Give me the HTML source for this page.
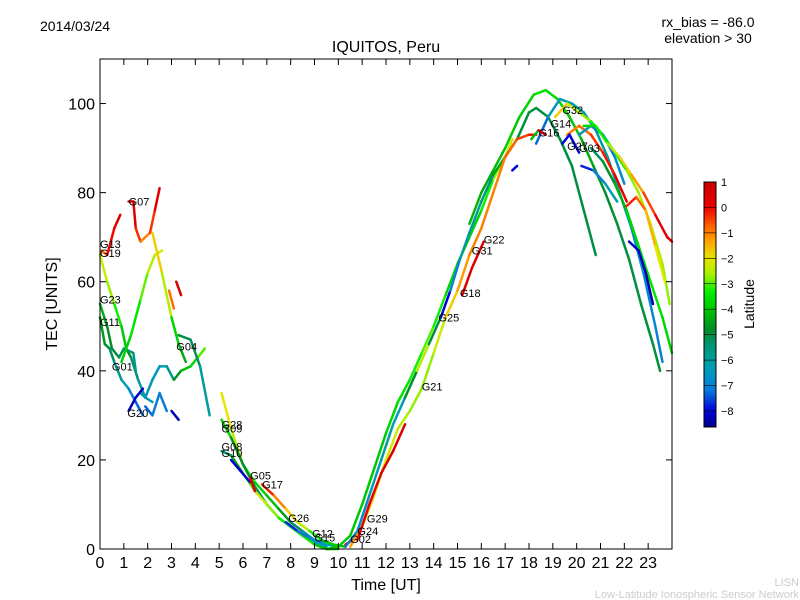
<!DOCTYPE html>
<html><head><meta charset="utf-8">
<style>
body{margin:0;background:#fff;}
svg{display:block;font-family:"Liberation Sans","DejaVu Sans",sans-serif;}
</style></head>
<body>
<svg id="chart" width="800" height="600" viewBox="0 0 800 600" xmlns="http://www.w3.org/2000/svg">
<rect width="800" height="600" fill="#fff"/>
<text x="40" y="31" font-size="14">2014/03/24</text>
<text x="708" y="27" font-size="14" text-anchor="middle">rx_bias = -86.0</text>
<text x="708" y="43" font-size="14" text-anchor="middle">elevation &gt; 30</text>
<text x="386" y="52" font-size="16" text-anchor="middle">IQUITOS, Peru</text>
<g id="plot"></g>
<rect x="100" y="59" width="572" height="490" fill="none" stroke="#000" stroke-width="1"/>
<g id="xticks"></g>
<g id="yticks"></g>
<text x="386" y="590" font-size="16" text-anchor="middle">Time [UT]</text>
<text x="57" y="304" font-size="16" text-anchor="middle" transform="rotate(-90 57 304)">TEC [UNITS]</text>
<defs><linearGradient id="jet" x1="0" y1="1" x2="0" y2="0"></linearGradient></defs>
<rect x="704" y="182" width="12" height="245" fill="url(#jet)" stroke="#000" stroke-width="1"/>
<g id="cticks"></g>
<text x="754" y="304" font-size="14" text-anchor="middle" transform="rotate(-90 754 304)">Latitude</text>
<text x="799" y="586" font-size="11" fill="#ccc" text-anchor="end">LISN</text>
<text x="799" y="598" font-size="11" fill="#ccc" text-anchor="end">Low-Latitude Ionospheric Sensor Network</text>
</svg>
<script>
const xTicks=[0,1,2,3,4,5,6,7,8,9,10,11,12,13,14,15,16,17,18,19,20,21,22,23];
const yTicks=[0,20,40,60,80,100];
const cTicks=[1,0,-1,-2,-3,-4,-5,-6,-7,-8];
const latMin=-8.63, latMax=1.0;
// tracks: [time UT, TEC, latitude]
const trkG07=[[1.2,78,0.6],[1.4,78,0.6],[1.5,72,0.3],[1.7,69,-1],[2.1,71,-1],[2.3,76,0.2],[2.5,81,0.6]];
const trkG13=[[0.05,67,-1],[0.3,66,-0.6],[0.6,72,0.5],[0.85,75,0.6]];
const trkG19=[[0.0,66,-2],[0.3,60,-2.5],[0.6,55,-3],[0.9,50,-3.5],[1.1,45,-4.5],[1.3,43,-5],[1.6,38,-5.7],[1.9,34,-6.3],[2.2,33,-6.6]];
const trkG23=[[0.0,55,-4.2],[0.3,50,-4.5],[0.5,45,-5],[0.8,43,-5],[1.0,45,-5.2],[1.4,44,-5.6],[1.5,40,-5.8]];
const trkG11=[[0.0,52,-4.5],[0.2,46,-4.7],[0.4,45,-5],[0.6,42,-5.5],[0.9,38,-6],[1.2,36,-6.6],[1.5,33,-7.2],[1.8,30,-7.5]];
const trkG01=[[0.9,42,-4],[1.3,48,-3.7],[1.7,56,-3.2],[2.0,62,-2.7],[2.3,66,-2.3],[2.6,67,-2.2]];
const trkRise=[[1.7,35,-5.8],[1.9,34,-6.5],[2.2,38,-6.6],[2.5,41,-6.4],[2.8,41,-6.2],[3.1,38,-5.2],[3.4,40,-4.2],[3.8,41,-4],[4.1,43,-3.5],[4.4,45,-2.5]];
const trkG20=[[1.2,31,-8.3],[1.5,34,-8.2],[1.8,36,-8.1]];
const trkG20b=[[1.9,32,-7.5],[2.2,30,-7.2],[2.5,35,-7],[2.8,31,-7.2]];
const trkG20c=[[3.0,31,-8.2],[3.3,29,-8.3]];
const trkDot=[[2.2,71,-1.5],[2.6,62,-2],[3.0,52,-3],[3.3,46,-4.5],[3.6,42,-4.3]];
const trkG04=[[3.3,48,-5],[3.8,47,-5],[4.2,41,-5.5],[4.6,30,-6.5]];
const trkOr=[[2.9,58,-0.7],[3.1,54,-1]];
const trkRd=[[3.2,60,0.5],[3.4,57,0.5]];
const trkG28=[[5.1,35,-2],[5.5,27,-2],[6,19,-2.8],[6.5,15,-3.5],[7,12,-4],[7.5,9,-4.2],[8,6,-5],[8.5,4,-5.5],[9,2,-6],[9.5,1,-6],[10,0.5,-6.5]];
const trkG09=[[5.1,29,-2.5],[5.5,25,-5],[6,19,-4.5],[6.5,14,-5],[7,10,-5.5],[7.5,7,-6],[8,5,-6.5],[8.5,3,-6.5],[9,1.5,-6.5],[9.5,0.5,-6.5]];
const trkG10=[[5.1,22,-6],[5.5,21,-5],[6,17,-4],[6.5,13,-2],[7,10,-2.5],[7.5,7,-3],[8,5,-3.5],[8.5,3,-3],[9,1,-4],[9.5,0,-4],[10,0,-4]];
const trkG05=[[5.5,20,-8],[6.3,15,-8.3]];
const trkG05b=[[6.3,16,0.3],[6.5,13,0.5]];
const trkG17=[[6.8,14.5,0],[7.3,12,-0.5],[7.8,9,-1.5],[8.3,6,-2],[8.8,4,-3],[9.3,2,-3.5],[9.8,1,-4],[10.3,0.5,-4]];
const trkG26=[[7.8,6,-8],[8.3,4,-7.5],[8.8,2.5,-7],[9.3,1.5,-6.5]];
const trkG02=[[10.3,1,0.5],[10.6,2,0.5]];
const trkA=[[9.5,0,-4],[10,0.5,-4],[10.5,3,-4],[11,10,-4],[11.5,18,-4],[12,26,-4],[12.5,33,-3.5],[13,38,-3.5],[13.5,44,-3],[14,50,-3],[14.5,57,-3.5],[15,64,-4],[15.5,70,-4],[16,76,-3.5],[16.5,83,-3],[17,88,-2.5],[17.3,92,-2]];
const trkB=[[10.3,0.5,-7],[10.8,4,-7],[11.3,12,-6.5],[11.8,20,-6],[12.3,28,-6],[12.8,34,-6.5],[13.3,40,-3],[13.8,46,-2],[14.3,52,-8],[14.7,58,-8],[15.1,65,-6],[15.5,71,-6],[16,78,-6],[16.5,84,-5],[17,88,-4],[17.5,92,-5],[18,98,-5],[18.3,99,-5],[18.8,97,-5],[19.3,92,-5],[19.8,86,-5],[20.3,76,-5],[20.8,66,-5]];
const trkC=[[10.5,0.5,-1],[11,5,-1.5],[11.5,12,-2],[12,20,-2],[12.5,27,-2.5],[13,31,-2.5],[13.5,36,-3],[14,44,-2.5],[14.5,52,-2],[15,58,-1.5],[15.5,66,-1],[16,72,-1],[16.5,80,-1],[17,88,-1],[17.5,92,-0.5],[18,93,-0.5],[18.3,93,0.2]];
const trkD=[[10.8,2,0.5],[11.3,10,0],[11.8,17,0.5],[12.3,22,0.5],[12.8,28,0.5]];
const trkE=[[15.2,57,0.5],[15.6,63,0.5],[16.1,69,0.5]];
const trkF=[[15.5,73,-4],[16,80,-4.5],[16.5,85,-4.3],[17,90,-4],[17.6,97,-4],[18.2,102,-3.7],[18.7,103,-3.6],[19.2,101,-3.7],[19.7,97,-4],[20.2,92,-4.2],[20.7,86,-4.5],[21.2,80,-4.8],[21.7,73,-5],[22.2,65,-5],[22.7,55,-5],[23.2,46,-5],[23.5,40,-5]];
const trkG=[[18.3,91,-7.8],[18.8,97,-6.8],[19.3,101,-6.3],[19.8,100,-6],[20.3,98,-6],[20.8,94,-6],[21.3,88,-6],[21.8,80,-6.3],[22.3,72,-6.5],[22.8,62,-6.8],[23.3,50,-7],[23.6,42,-7]];
const trkH=[[19.1,97,-1.5],[19.6,100,-2],[20.1,98,-2.5],[20.6,96,-3],[21.1,93,-3.5],[21.6,89,-3.5],[22.1,85,-3],[22.6,80,-2.5],[23.1,73,-2.5],[23.6,64,-2.5],[23.9,55,-3]];
const trkI=[[19.6,93,-1],[20.1,95,-1],[20.6,93,-0.5],[21.1,89,-0.3],[21.6,84,0],[22.1,78,0.3]];
const trkJ=[[20.1,93,-6.5],[20.6,95,-6.5],[21.1,93,-7],[21.6,88,-7],[22,82,-6.5]];
const trkK=[[20.3,95,-4],[20.8,95,-3.5],[21.3,91,-3],[21.8,88,-2],[22.3,84,-1.5],[22.8,80,-1],[23.3,75,0],[23.8,70,0.5],[24,69,0.5]];
const trkL=[[20.6,90,-5.5],[21.1,87,-5],[21.6,82,-4.5],[22.1,76,-4],[22.6,68,-3.5],[23.1,60,-3.5],[23.6,52,-3.5],[24,44,-4]];
const trkM=[[22.1,77,0],[22.5,79,-0.5],[22.9,76,-1],[23.3,68,-2],[23.7,60,-2]];
const trkN=[[20.2,86,-8],[20.7,85,-7.5],[21.2,82,-6.5],[21.7,78,-6]];
const trkO=[[22.2,69,-8.3],[22.6,67,-8],[22.9,62,-8.3],[23.2,55,-8.4]];
const trkP=[[17.3,85,-8.2],[17.5,86,-8]];
const trkQ=[[19.4,91,-8.2],[19.7,93,-7.8],[20.1,89,-8.3]];
const trkR=[[18.1,92,-8.3],[18.4,94,0],[18.7,93,0.3]];
const tracks=[trkG07,trkG13,trkG19,trkG23,trkG11,trkG01,trkRise,trkG20,trkG20b,trkG20c,trkDot,trkG04,trkOr,trkRd,trkG28,trkG09,trkG10,trkG05,trkG05b,trkG17,trkG26,trkG02,trkA,trkB,trkC,trkD,trkE,trkF,trkG,trkH,trkI,trkJ,trkK,trkL,trkM,trkN,trkO,trkP,trkQ,trkR];
const labelNames=["G07","G13","G19","G23","G11","G01","G20","G04","G28","G09","G08","G10","G05","G17","G26","G12","G15","G02","G24","G29","G21","G25","G18","G31","G22","G16","G14","G32","G27","G03"];
const labelT=[1.2,0,0,0,0,0.5,1.15,3.2,5.1,5.1,5.1,5.1,6.3,6.8,7.9,8.9,9.0,10.5,10.8,11.2,13.5,14.2,15.1,15.6,16.1,18.4,18.9,19.4,19.6,20.1];
const labelV=[78,68.5,66.5,56,51,41,30.5,45.5,28,27,23,21.5,16.5,14.5,7,3.5,2.6,2.2,4,6.8,36.5,52,57.5,67,69.5,93.5,95.5,98.5,90.5,90];
const NS="http://www.w3.org/2000/svg";
const X=t=>100+t*572/24, Y=v=>549-v*490/110;
const cmapStops=[[-8.63,[0,0,140]],[-8.0,[0,0,220]],[-7.2,[10,120,220]],[-6.3,[0,160,180]],[-5.5,[0,150,122]],[-4.8,[0,140,40]],[-4.0,[0,200,0]],[-3.3,[0,240,0]],[-2.7,[160,240,0]],[-2.0,[230,230,0]],[-1.3,[255,160,0]],[-0.8,[255,106,0]],[0.0,[240,0,0]],[1.0,[200,0,0]]];
function jet(l){l=Math.max(latMin,Math.min(latMax,l));
for(let i=0;i<cmapStops.length-1;i++){const a=cmapStops[i],b=cmapStops[i+1];if(l<=b[0]){const f=(l-a[0])/(b[0]-a[0]);
const c=a[1].map((v,k)=>Math.round(v+(b[1][k]-v)*f));return `rgb(${c[0]},${c[1]},${c[2]})`;}}
return 'rgb(200,0,0)';}
const plot=document.getElementById('plot');
tracks.forEach(tr=>{for(let i=0;i<tr.length-1;i++){const a=tr[i],b=tr[i+1];const ln=document.createElementNS(NS,'line');


ln.setAttribute('x1',X(a[0]));ln.setAttribute('y1',Y(a[1]));ln.setAttribute('x2',X(b[0]));ln.setAttribute('y2',Y(b[1]));
ln.setAttribute('stroke',jet((a[2]+b[2])/2));ln.setAttribute('stroke-width','2.5');ln.setAttribute('stroke-linecap','round');plot.appendChild(ln);}});
labelNames.forEach((n,i)=>{const tx=document.createElementNS(NS,'text');


tx.setAttribute('x',X(labelT[i]));tx.setAttribute('y',Y(labelV[i])+4);tx.setAttribute('font-size','11');tx.textContent=n;plot.appendChild(tx);});
const xg=document.getElementById('xticks');
xTicks.forEach(t=>{const x=X(t);[[549,543],[59,65]].forEach(p=>{const l=document.createElementNS(NS,'line');


l.setAttribute('x1',x);l.setAttribute('x2',x);l.setAttribute('y1',p[0]);l.setAttribute('y2',p[1]);l.setAttribute('stroke','#000');xg.appendChild(l);});
const tx=document.createElementNS(NS,'text');


tx.setAttribute('x',x);tx.setAttribute('y',568);tx.setAttribute('font-size','16');tx.setAttribute('text-anchor','middle');tx.textContent=t;xg.appendChild(tx);});
const yg=document.getElementById('yticks');
yTicks.forEach(v=>{const y=Y(v);[[100,106],[672,666]].forEach(p=>{const l=document.createElementNS(NS,'line');


l.setAttribute('y1',y);l.setAttribute('y2',y);l.setAttribute('x1',p[0]);l.setAttribute('x2',p[1]);l.setAttribute('stroke','#000');yg.appendChild(l);});
const tx=document.createElementNS(NS,'text');


tx.setAttribute('x',95);tx.setAttribute('y',y+6);tx.setAttribute('font-size','16');tx.setAttribute('text-anchor','end');tx.textContent=v;yg.appendChild(tx);});
const grad=document.getElementById('jet');
for(let i=0;i<=40;i++){const s=document.createElementNS(NS,'stop');s.setAttribute('offset',i/40);s.setAttribute('stop-color',jet(latMin+(latMax-latMin)*i/40));grad.appendChild(s);}
const cg=document.getElementById('cticks');
const CY=l=>427-(l-latMin)*245/(latMax-latMin);
cTicks.forEach(l=>{const y=CY(l);const ln=document.createElementNS(NS,'line');


ln.setAttribute('x1',704);ln.setAttribute('x2',716);ln.setAttribute('y1',y);ln.setAttribute('y2',y);ln.setAttribute('stroke','#000');ln.setAttribute('stroke-width','0.6');cg.appendChild(ln);
const tx=document.createElementNS(NS,'text');


tx.setAttribute('x',721);tx.setAttribute('y',y+4);tx.setAttribute('font-size','11');tx.textContent=(l<0?'\u2212'+(-l):l);cg.appendChild(tx);});
</script>
</body></html>
